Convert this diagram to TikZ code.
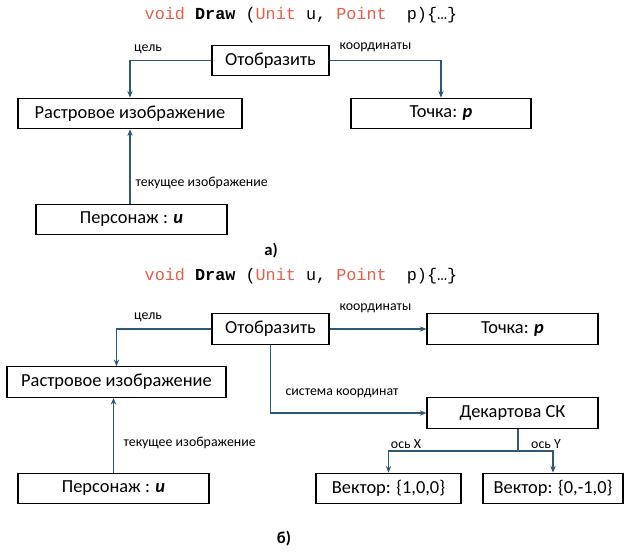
\documentclass[tikz,border=0pt]{standalone}
\usepackage{fontspec}
\setmainfont{Carlito}
\newfontfamily\codefont{Liberation Mono}
\usepackage{tikz}
\usetikzlibrary{arrows.meta}
\definecolor{linecol}{RGB}{46,88,120}
\definecolor{keycol}{RGB}{232,92,72}
\newcommand{\drawsig}{{\codefont\color{keycol}void\ \color{black}\textbf{Draw}\ (\color{keycol}Unit\ \color{black}u,\ \color{keycol}Point\ \ \color{black}p)\{…\}}}

\begin{document}
\begin{tikzpicture}[x=0.75pt,y=-0.75pt,
box node/.style={draw,thick,minimum height=23pt,inner sep=2pt,font=\fontsize{13.8}{15}\selectfont},
lbl node/.style={inner sep=1pt,font=\fontsize{10.4}{12}\selectfont},
cap node/.style={font=\fontsize{12.5}{14}\selectfont\bfseries},
arr/.style={draw=linecol,thick,-{Stealth[length=5pt,width=4pt]}},
ln/.style={draw=linecol,thick}]
\useasboundingbox (0,0) rectangle (625,551);
% a)
\node (sig1) at (301,15) {\fontsize{12.6}{14}\selectfont\drawsig};
\node[box node,minimum width=87.75pt] (disp1) at (270.5,60.5) {Отобразить};
\node[box node,minimum width=168pt] (rast1) at (130,113.5) {Растровое изображение};
\node[box node,minimum width=135pt] (pt1) at (441,113.5) {Точка: \textbf{\textit{p}}};
\node[box node,minimum width=143.25pt] (pers1) at (131.5,219.5) {Персонаж : \textbf{\textit{u}}};
\draw[arr] (disp1.west) -| (rast1.north);
\draw[arr] (disp1.east) -| (pt1.north);
\draw[arr] (pers1.north -| rast1.south) -- (rast1.south);
\node[lbl node] (goal1) at (148,49) {цель};
\node[lbl node,anchor=west] (coord1) at (338,47) {координаты};
\node[lbl node,anchor=west] (cur1) at (134,183) {текущее изображение};
\node[cap node] (capa) at (271,251) {а)};
% b)
\node (sig2) at (301,276) {\fontsize{12.6}{14}\selectfont\drawsig};
\node[box node,minimum width=87.75pt] (disp2) at (270.5,329) {Отобразить};
\node[box node,minimum width=164.25pt] (rast2) at (116.5,382) {Растровое изображение};
\node[box node,minimum width=128.25pt] (pt2) at (512.5,329) {Точка: \textbf{\textit{p}}};
\node[box node,minimum width=128.25pt] (dek) at (512.5,413) {Декартова СК};
\node[box node,minimum width=108.75pt] (vec1) at (388.5,488.5) {Вектор: \{1,0,0\}};
\node[box node,minimum width=105pt] (vec2) at (553,488.5) {Вектор: \{0,-1,0\}};
\node[box node,minimum width=143.25pt] (pers2) at (113.5,488.5) {Персонаж : \textbf{\textit{u}}};
\coordinate (split) at (518,451);
\draw[arr] (disp2.west) -| (rast2.north);
\draw[arr] (disp2.east) -- (pt2.west);
\draw[arr] (disp2.south) |- (dek.west);
\draw[arr] (pers2.north) -- (pers2.north |- rast2.south);
\draw[ln] (dek.south -| split) -- (split);
\draw[arr] (split) -| (vec1.north);
\draw[arr] (split) -| (vec2.north);
\node[lbl node] (goal2) at (148,317) {цель};
\node[lbl node,anchor=west] (coord2) at (338,308) {координаты};
\node[lbl node,anchor=west] (sys) at (284,393) {система координат};
\node[lbl node,anchor=west] (cur2) at (122,443) {текущее изображение};
\node[lbl node] (axx) at (406,444) {ось X};
\node[lbl node] (axy) at (546,444) {ось Y};
\node[cap node] (capb) at (284,539) {б)};
\end{tikzpicture}
\end{document}
